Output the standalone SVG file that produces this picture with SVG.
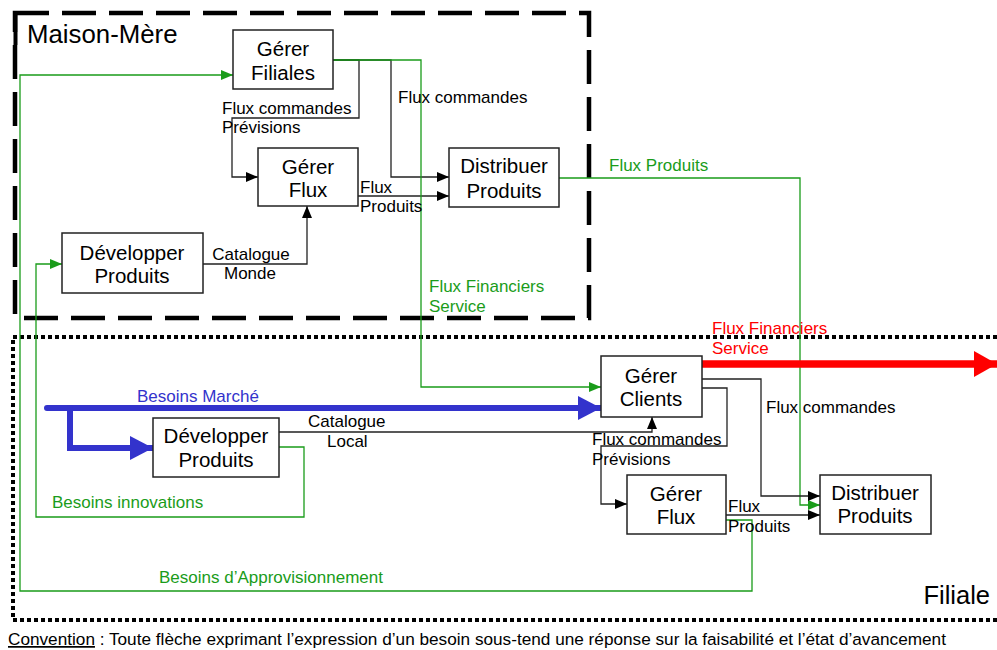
<svg xmlns="http://www.w3.org/2000/svg" width="997" height="650" viewBox="0 0 997 650">
<style>
text{font-family:"Liberation Sans",Arial,sans-serif;fill:#000}
.n rect{fill:#fff;stroke:#222;stroke-width:1.5}
.n text{font-size:20.5px;text-anchor:middle}
.lb{font-size:17px}
.g{fill:#1a9c1a}
.b{fill:#3333cc}
.r{fill:#ff0000}
.k{fill:none;stroke:#222;stroke-width:1.3}
.gl{fill:none;stroke:#1a9c1a;stroke-width:1.3}
</style>
<defs>
<marker id="ak" viewBox="0 0 12 10" refX="12" refY="5" markerWidth="12" markerHeight="10" markerUnits="userSpaceOnUse" orient="auto"><path d="M0,0L12,5L0,10z" fill="#000"/></marker>
<marker id="ag" viewBox="0 0 12 10" refX="12" refY="5" markerWidth="12" markerHeight="10" markerUnits="userSpaceOnUse" orient="auto"><path d="M0,0L12,5L0,10z" fill="#1a9c1a"/></marker>
<marker id="abl" viewBox="0 0 23 24" refX="23" refY="12" markerWidth="23" markerHeight="24" markerUnits="userSpaceOnUse" orient="auto"><path d="M0,0L23,12L0,24z" fill="#3333cc"/></marker>
<marker id="ar" viewBox="0 0 23 26" refX="23" refY="13" markerWidth="23" markerHeight="26" markerUnits="userSpaceOnUse" orient="auto"><path d="M0,0L23,13L0,26z" fill="#ff0000"/></marker>
</defs>
<rect width="997" height="650" fill="#fff"/>
<g id="frames">
<rect x="15" y="13" width="574" height="305" fill="none" stroke="#000" stroke-width="4.5" stroke-dasharray="34 13"/>
<path d="M15.5,45V13H28" fill="none" stroke="#000" stroke-width="4"/>
<path d="M997,337H13V620H997" fill="none" stroke="#000" stroke-width="4" stroke-dasharray="4 3"/>
<text x="27" y="43" font-size="25.8">Maison-Mère</text>
<text x="990" y="604" font-size="25.5" text-anchor="end">Filiale</text>
</g>
<g id="connectors">
<path class="k" d="M333,60H359V118H232V177H258" marker-end="url(#ak)"/>
<path class="k" d="M333,60H391V177H449" marker-end="url(#ak)"/>
<path class="k" d="M203,264H307V206" marker-end="url(#ak)"/>
<path class="k" d="M358,196H449" marker-end="url(#ak)"/>
<path class="gl" d="M333,60H421V387H601" marker-end="url(#ag)"/>
<path class="gl" d="M726,520H752V591H20V75H233" marker-end="url(#ag)"/>
<path class="gl" d="M279,447H304V517H36V264H62" marker-end="url(#ag)"/>
<path class="gl" d="M559,178H800V505H820" marker-end="url(#ag)"/>
<path class="k" d="M279,432H652V417" marker-end="url(#ak)"/>
<path class="k" d="M702,388H727V446H601V504H627" marker-end="url(#ak)"/>
<path class="k" d="M702,379H761V496H820" marker-end="url(#ak)"/>
<path class="k" d="M726,515H820" marker-end="url(#ak)"/>
<path d="M47,408H601" fill="none" stroke="#3333cc" stroke-width="6" stroke-linecap="round" marker-end="url(#abl)"/>
<path d="M70,408V448H153" fill="none" stroke="#3333cc" stroke-width="6" stroke-linecap="round" marker-end="url(#abl)"/>
<path d="M702,364H997" fill="none" stroke="#ff0000" stroke-width="7.5" stroke-linecap="round" marker-end="url(#ar)"/>
</g>
<g id="labels">
<text class="lb" x="222" y="114">Flux commandes</text>
<text class="lb" x="222" y="133">Prévisions</text>
<text class="lb" x="398" y="103">Flux commandes</text>
<text class="lb" x="360" y="193">Flux</text>
<text class="lb" x="360" y="212">Produits</text>
<text class="lb" x="251" y="260" text-anchor="middle">Catalogue</text>
<text class="lb" x="250" y="279" text-anchor="middle">Monde</text>
<text class="lb g" x="609" y="171">Flux Produits</text>
<text class="lb g" x="429" y="292">Flux Financiers</text>
<text class="lb g" x="429" y="312">Service</text>
<text class="lb r" x="712" y="334">Flux Financiers</text>
<text class="lb r" x="712" y="354">Service</text>
<text class="lb b" x="137" y="402">Besoins Marché</text>
<text class="lb" x="308" y="427">Catalogue</text>
<text class="lb" x="327" y="447">Local</text>
<text class="lb" x="592" y="445">Flux commandes</text>
<text class="lb" x="592" y="465">Prévisions</text>
<text class="lb" x="766" y="413">Flux commandes</text>
<text class="lb" x="728" y="512">Flux</text>
<text class="lb" x="728" y="532">Produits</text>
<text class="lb g" x="52" y="508">Besoins innovations</text>
<text class="lb g" x="159" y="583">Besoins d’Approvisionnement</text>
<text x="8" y="645" font-size="17.2"><tspan text-decoration="underline">Convention</tspan> : Toute flèche exprimant l’expression d’un besoin sous-tend une réponse sur la faisabilité et l’état d’avancement</text>
</g>
<g id="gerer-filiales" class="n"><rect x="233" y="30" width="100" height="59"/><text x="283" y="56">Gérer</text><text x="283" y="80">Filiales</text></g>
<g id="gerer-flux-mm" class="n"><rect x="258" y="148" width="100" height="58"/><text x="308" y="174">Gérer</text><text x="308" y="197">Flux</text></g>
<g id="distribuer-produits-mm" class="n"><rect x="449" y="148" width="110" height="59"/><text x="504" y="173">Distribuer</text><text x="504" y="198">Produits</text></g>
<g id="developper-produits-mm" class="n"><rect x="62" y="233" width="141" height="60"/><text x="132" y="260">Développer</text><text x="132" y="283">Produits</text></g>
<g id="gerer-clients" class="n"><rect x="601" y="356" width="101" height="61"/><text x="651" y="383">Gérer</text><text x="651" y="406">Clients</text></g>
<g id="developper-produits-f" class="n"><rect x="153" y="418" width="126" height="59"/><text x="216" y="443">Développer</text><text x="216" y="467">Produits</text></g>
<g id="gerer-flux-f" class="n"><rect x="627" y="475" width="99" height="59"/><text x="676" y="501">Gérer</text><text x="676" y="524">Flux</text></g>
<g id="distribuer-produits-f" class="n"><rect x="820" y="475" width="111" height="59"/><text x="875" y="500">Distribuer</text><text x="875" y="523">Produits</text></g>
</svg>
